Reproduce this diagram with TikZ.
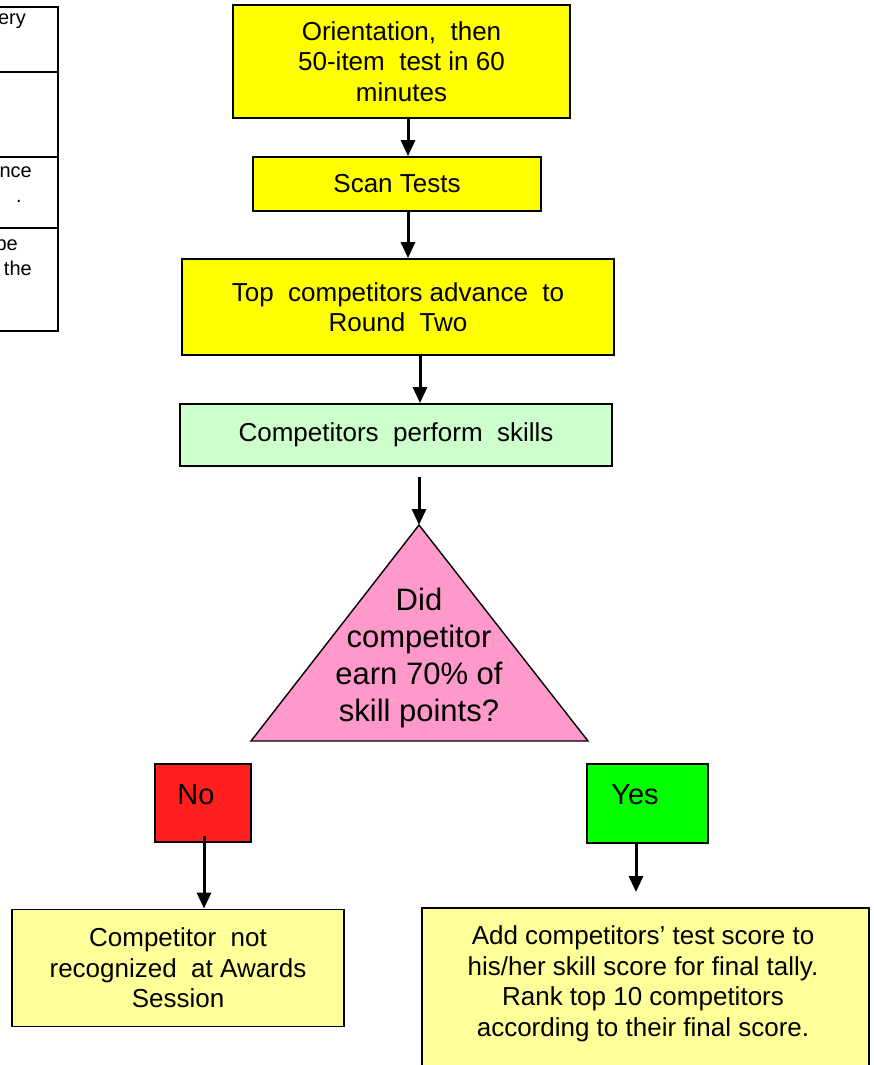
\documentclass[tikz,border=0pt]{standalone}
\usepackage{fontspec}
\setmainfont{Liberation Sans}
\usetikzlibrary{arrows.meta}

\definecolor{stepyellow}{HTML}{FFFF00}
\definecolor{paleyellow}{HTML}{FFFF99}
\definecolor{palegreen}{HTML}{CCFFCC}
\definecolor{decisionpink}{HTML}{FF99CC}
\definecolor{nored}{HTML}{FF1F1F}
\definecolor{yesgreen}{HTML}{00FF00}

\tikzset{
  stepbox/.style={draw=black,line width=1.8pt,fill=stepyellow,inner sep=0pt,align=center,
    font=\fontsize{26}{30.5}\selectfont},
  resultbox/.style={stepbox,fill=paleyellow},
  answerbox/.style={draw=black,line width=1.8pt,inner sep=0pt,minimum width=96,minimum height=78},
  bigtext/.style={align=center,inner sep=0pt,font=\fontsize{29}{37}\selectfont},
  tabletext/.style={anchor=base east,inner sep=0pt,font=\fontsize{20}{25}\selectfont},
  flow/.style={line width=3pt,-{Triangle[length=16pt,width=14pt]}}
}

\begin{document}
\begin{tikzpicture}[x=1pt,y=-1pt,line join=miter]
\useasboundingbox (0,0) rectangle (873,1065);
\clip (0,0) rectangle (873,1065);

% table running off the left edge
\draw[line width=1.8pt] (-20,7) -- (58,7) -- (58,331) -- (-20,331);
\foreach \y in {72,157,228}
  \draw[line width=1.8pt] (-20,\y) -- (58,\y);
\node[tabletext] (t1) at (26,25) {ery};
\node[tabletext] (t2) at (32,177) {nce};
\node[tabletext] (t3) at (22,202) {.};
\node[tabletext] (t4) at (18,250) {be};
\node[tabletext] (t5) at (32,275) {the};

% round one
\node[stepbox,minimum width=337,minimum height=113] (orient) at (401.5,61.5)
  {Orientation,\ \ then\\50-item\ \ test in 60\\minutes};
\node[stepbox,minimum width=288,minimum height=54] (scan) at (397,184) {Scan Tests};
\node[stepbox,minimum width=432,minimum height=96] (advance) at (398,307)
  {Top\ \ competitors advance\ \ to\\Round\ \ Two};
\node[stepbox,fill=palegreen,minimum width=432,minimum height=62] (perform) at (396,435)
  {Competitors\ \ perform\ \ skills};

\coordinate (col1) at (408,0);
\coordinate (col2) at (420,0);
\draw[flow] (orient.south -| col1) -- (scan.north -| col1);
\draw[flow] (scan.south -| col1) -- (advance.north -| col1);
\draw[flow] (advance.south -| col2) -- (perform.north -| col2);

% decision
\coordinate (apex) at (419,525);
\coordinate (baseleft) at (251,741);
\coordinate (baseright) at (588,741);
\draw[line width=1.4pt,fill=decisionpink] (apex) -- (baseleft) -- (baseright) -- cycle;
\node[bigtext,font=\fontsize{31}{37}\selectfont] (question) at (419,658)
  {Did\\competitor\\earn 70\% of\\skill points?};
\coordinate (gap) at (419,477);
\draw[flow] (gap) -- (apex);

% answers
\node[answerbox,fill=nored] (no) at (203,803) {};
\node[bigtext] (notext) at (196,795) {No};
\node[answerbox,fill=yesgreen,minimum width=121,minimum height=79] (yes) at (647.5,803.5) {};
\node[bigtext] (yestext) at (635,795) {Yes};

\node[resultbox,minimum width=332,minimum height=117] (noresult) at (178,968)
  {Competitor\ \ not\\recognized\ \ at Awards\\Session};
\node[resultbox,minimum width=447,minimum height=172] (rank) at (645.5,994) {};
\node[align=center,inner sep=0pt,font=\fontsize{26}{30.5}\selectfont] (ranktext) at (643,984)
  {Add competitors’ test score to\\his/her skill score for final tally.\\Rank top 10 competitors\\according to their final score.};

\coordinate (nostart) at (204,836);
\coordinate (yesend) at (636,892);
\draw[flow] (nostart) -- (noresult.north -| nostart);
\draw[flow] (yes.south -| yesend) -- (yesend);
\end{tikzpicture}
\end{document}
